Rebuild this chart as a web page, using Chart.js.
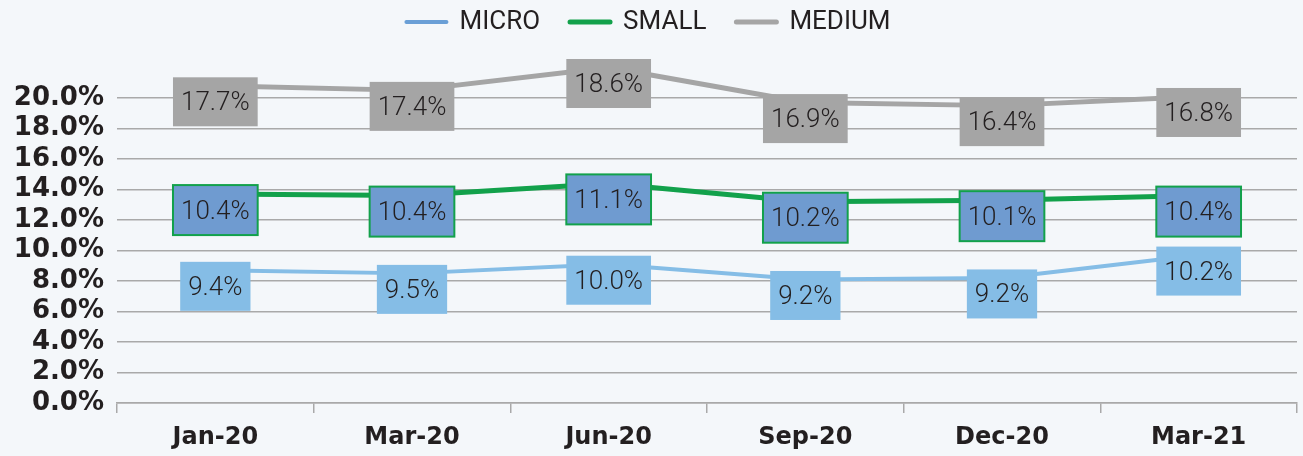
<!DOCTYPE html>
<html>
<head>
<meta charset="utf-8">
<script src="https://cdn.jsdelivr.net/npm/chart.js@4"></script>
<style>
  html, body { margin: 0; padding: 0; background: #f4f7fa; }
  #wrap { position: relative; width: 1303px; height: 456px; }
</style>
</head>
<body>
<div id="wrap"><canvas id="line-chart"></canvas></div>
<script>
// categories
const labels = ["Jan-20", "Mar-20", "Jun-20", "Sep-20", "Dec-20", "Mar-21"];

// where the lines sit in the picture (% on the axis)
const microLine = [8.7, 8.5, 9.1, 8.1, 8.2, 9.7];
const smallLine = [13.7, 13.6, 14.4, 13.2, 13.3, 13.6];
const mediumLine = [20.8, 20.5, 22.0, 19.7, 19.5, 20.1];

// the values printed in the boxes
const microLabels = [9.4, 9.5, 10.0, 9.2, 9.2, 10.2];
const smallLabels = [10.4, 10.4, 11.1, 10.2, 10.1, 10.4];
const mediumLabels = [17.7, 17.4, 18.6, 16.9, 16.4, 16.8];

const legendColors = ["#6a9fd6", "#12a14b", "#a5a5a5"];

// draws the value boxes under each point
const boxLabels = {
  id: "boxLabels",
  afterDatasetsDraw(chart) {
    const ctx = chart.ctx;
    ctx.save();
    ctx.font = "300 26px Roboto";
    ctx.textAlign = "center";
    ctx.textBaseline = "middle";
    chart.data.datasets.forEach((ds, i) => {
      const meta = chart.getDatasetMeta(i);
      meta.data.forEach((pt, j) => {
        const txt = ds.boxText[j].toFixed(1) + "%";
        const w = ctx.measureText(txt).width + 16;
        const h = ds.boxH;
        const cx = pt.x, cy = pt.y + 16;
        ctx.fillStyle = ds.boxFill;
        ctx.fillRect(cx - w / 2, cy - h / 2, w, h);
        if (ds.boxBorder) {
          ctx.strokeStyle = ds.boxBorder;
          ctx.lineWidth = 2;
          ctx.strokeRect(cx - w / 2, cy - h / 2, w, h);
        }
        ctx.fillStyle = "#231f20";
        ctx.fillText(txt, cx, cy + 2);
      });
    });
    ctx.restore();
  }
};

const legendHeight = {
  id: "legendHeight",
  beforeInit(chart) {
    const fit = chart.legend.fit;
    chart.legend.fit = function () {
      fit.bind(chart.legend)();
      this.height = 119;
    };
  }
};

new Chart(document.getElementById("line-chart"), {
  type: "line",
  data: {
    labels: labels,
    datasets: [
      {
        label: "MICRO",
        data: microLine,
        borderColor: "#85bde6",
        borderWidth: 4,
        boxText: microLabels,
        boxFill: "#85bde6",
        boxH: 49
      },
      {
        label: "SMALL",
        data: smallLine,
        borderColor: "#12a14b",
        borderWidth: 5,
        boxText: smallLabels,
        boxFill: "#6f9bd0",
        boxBorder: "#12a14b",
        boxH: 50
      },
      {
        label: "MEDIUM",
        data: mediumLine,
        borderColor: "#a5a5a5",
        borderWidth: 5,
        boxText: mediumLabels,
        boxFill: "#a5a5a5",
        boxH: 49
      }
    ]
  },
  options: {
    responsive: true,
    maintainAspectRatio: false,
    animation: false,
    layout: { padding: { top: -21, right: 6, left: 0, bottom: 0 } },
    elements: {
      point: { radius: 0, hoverRadius: 0 },
      line: { tension: 0, borderCapStyle: "round", borderJoinStyle: "round" }
    },
    datasets: { line: { clip: false } },
    plugins: {
      tooltip: { enabled: false },
      legend: {
        position: "top",
        labels: {
          usePointStyle: true,
          pointStyle: "line",
          pointStyleWidth: 40,
          padding: 30,
          color: "#231f20",
          font: { family: "Roboto", size: 26 },
          generateLabels(chart) {
            const items = Chart.defaults.plugins.legend.labels.generateLabels(chart);
            items.forEach((it, i) => { it.strokeStyle = legendColors[i]; it.lineCap = "round"; });
            return items;
          }
        }
      }
    },
    scales: {
      x: {
        offset: true,
        afterFit(scale) { scale.height = 53; },
        grid: {
          offset: true,
          drawOnChartArea: false,
          drawTicks: true,
          tickLength: 10,
          color: "#a9a9a9",
          lineWidth: 1.5
        },
        border: { display: true, color: "#a9a9a9", width: 1.5 },
        ticks: {
          padding: 10,
          color: "#231f20",
          font: { family: "DejaVu Sans", weight: "bold", size: 24 }
        }
      },
      y: {
        min: 0,
        max: 20,
        afterFit(scale) { scale.width = 117; },
        grid: { color: "#a9a9a9", lineWidth: 1.5, drawTicks: false },
        border: { display: false },
        ticks: {
          stepSize: 2,
          autoSkip: false,
          padding: 13,
          color: "#231f20",
          font: { family: "DejaVu Sans", weight: "bold", size: 26, lineHeight: 1 },
          callback: (v) => v.toFixed(1) + "%"
        }
      }
    }
  },
  plugins: [legendHeight, boxLabels]
});
</script>
</body>
</html>
